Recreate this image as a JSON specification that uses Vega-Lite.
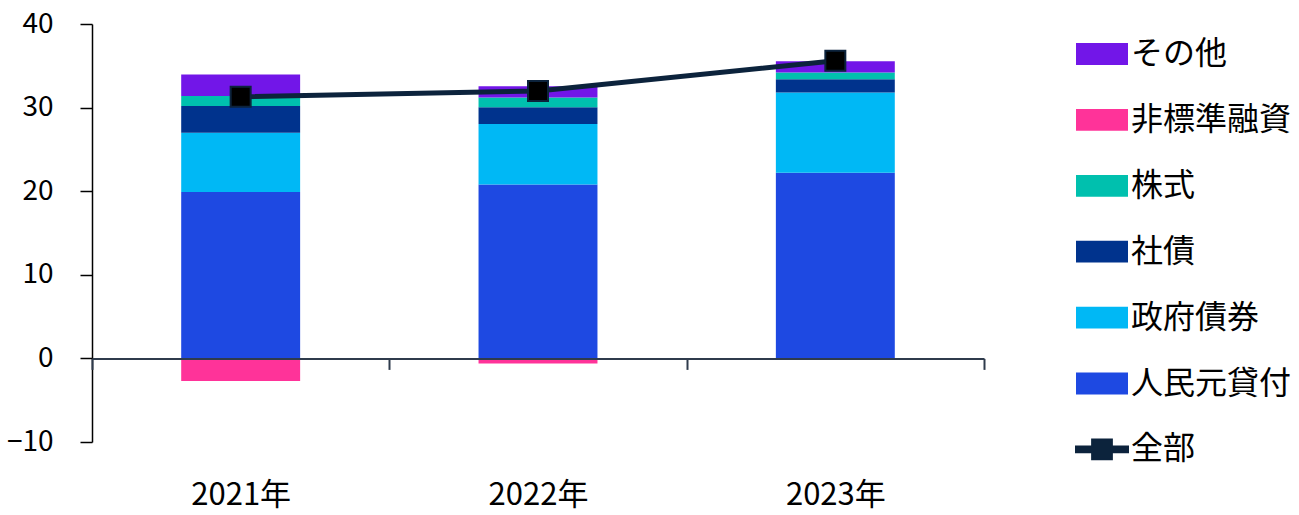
{
  "$schema": "https://vega.github.io/schema/vega-lite/v6.json",
  "width": 892,
  "height": 418,
  "autosize": "none",
  "padding": {"left": 92, "top": 24, "right": 315, "bottom": 73},
  "config": {"font": "Noto Sans CJK JP", "view": {"stroke": null}},
  "datasets": {
    "parts": [
      {"year": "2021年", "category": "人民元貸付", "value": 19.9},
      {"year": "2021年", "category": "政府債券", "value": 7.1},
      {"year": "2021年", "category": "社債", "value": 3.2},
      {"year": "2021年", "category": "株式", "value": 1.2},
      {"year": "2021年", "category": "非標準融資", "value": -2.7},
      {"year": "2021年", "category": "その他", "value": 2.55},
      {"year": "2022年", "category": "人民元貸付", "value": 20.8},
      {"year": "2022年", "category": "政府債券", "value": 7.25},
      {"year": "2022年", "category": "社債", "value": 2.0},
      {"year": "2022年", "category": "株式", "value": 1.15},
      {"year": "2022年", "category": "非標準融資", "value": -0.6},
      {"year": "2022年", "category": "その他", "value": 1.35},
      {"year": "2023年", "category": "人民元貸付", "value": 22.2},
      {"year": "2023年", "category": "政府債券", "value": 9.6},
      {"year": "2023年", "category": "社債", "value": 1.6},
      {"year": "2023年", "category": "株式", "value": 0.8},
      {"year": "2023年", "category": "非標準融資", "value": 0.0},
      {"year": "2023年", "category": "その他", "value": 1.35}
    ],
    "total": [
      {"year": "2021年", "value": 31.3},
      {"year": "2022年", "value": 32.0},
      {"year": "2023年", "value": 35.6}
    ]
  },
  "layer": [
    {
      "data": {"name": "parts"},
      "transform": [
        {"calculate": "indexof(['人民元貸付','政府債券','社債','株式','非標準融資','その他'], datum.category)", "as": "stackOrder"}
      ],
      "mark": {"type": "bar", "width": {"band": 0.4}},
      "encoding": {
        "x": {
          "field": "year", "type": "nominal",
          "scale": {"paddingInner": 0, "paddingOuter": 0},
          "axis": {
            "title": null, "orient": "bottom", "offset": -83.6, "tickBand": "extent",
            "tickSize": 11, "domainColor": "#2F3B4C", "tickColor": "#2F3B4C",
            "domainWidth": 2, "tickWidth": 2, "labelAngle": 0, "labelFontSize": 31,
            "labelColor": "black", "labelPadding": 111, "zindex": 1
          }
        },
        "y": {
          "field": "value", "type": "quantitative", "stack": "zero",
          "scale": {"domain": [-10, 40], "nice": false},
          "axis": {
            "title": null, "values": [-10, 0, 10, 20, 30, 40], "tickSize": 12,
            "domainColor": "black", "tickColor": "black", "domainWidth": 1.5, "tickWidth": 1.5,
            "labelFontSize": 28, "labelColor": "black", "labelPadding": 27, "grid": false
          }
        },
        "color": {
          "field": "category", "type": "nominal",
          "scale": {
            "domain": ["その他", "非標準融資", "株式", "社債", "政府債券", "人民元貸付", "全部"],
            "range": ["#7216E8", "#FF3399", "#00C0AE", "#00338D", "#00B8F5", "#1E49E2", "#0C233C"]
          },
          "legend": {
            "title": null, "orient": "none", "legendX": 982, "legendY": 14, "padding": 0,
            "labelFontSize": 32, "labelColor": "black", "labelOffset": 13, "rowPadding": 33.9,
            "labelLimit": 300,
            "symbolSize": 2704, "symbolOffset": 12,
            "encode": {
              "symbols": {
                "update": {
                  "shape": {"signal": "datum.value === '全部' ? 'M-1,-0.11H-0.38V-0.38H0.38V-0.11H1V0.11H0.38V0.38H-0.38V0.11H-1Z' : 'M-1,-0.42H1V0.42H-1Z'"},
                  "fill": {"signal": "datum.value === '全部' ? 'black' : scale('color', datum.value)"},
                  "stroke": {"signal": "datum.value === '全部' ? '#0C233C' : null"},
                  "strokeWidth": {"signal": "datum.value === '全部' ? 2 : 0"},
                  "opacity": {"value": 1},
                  "fillOpacity": {"value": 1}
                }
              }
            }
          }
        },
        "order": {"field": "stackOrder", "type": "quantitative"}
      }
    },
    {
      "data": {"name": "total"},
      "mark": {"type": "line", "color": "#0C233C", "strokeWidth": 5},
      "encoding": {
        "x": {"field": "year", "type": "nominal"},
        "y": {"field": "value", "type": "quantitative"}
      }
    },
    {
      "data": {"name": "total"},
      "mark": {"type": "point", "shape": "square", "filled": true, "fill": "black", "stroke": "#0C233C", "strokeWidth": 2, "size": 400, "opacity": 1},
      "encoding": {
        "x": {"field": "year", "type": "nominal"},
        "y": {"field": "value", "type": "quantitative"}
      }
    }
  ]
}
